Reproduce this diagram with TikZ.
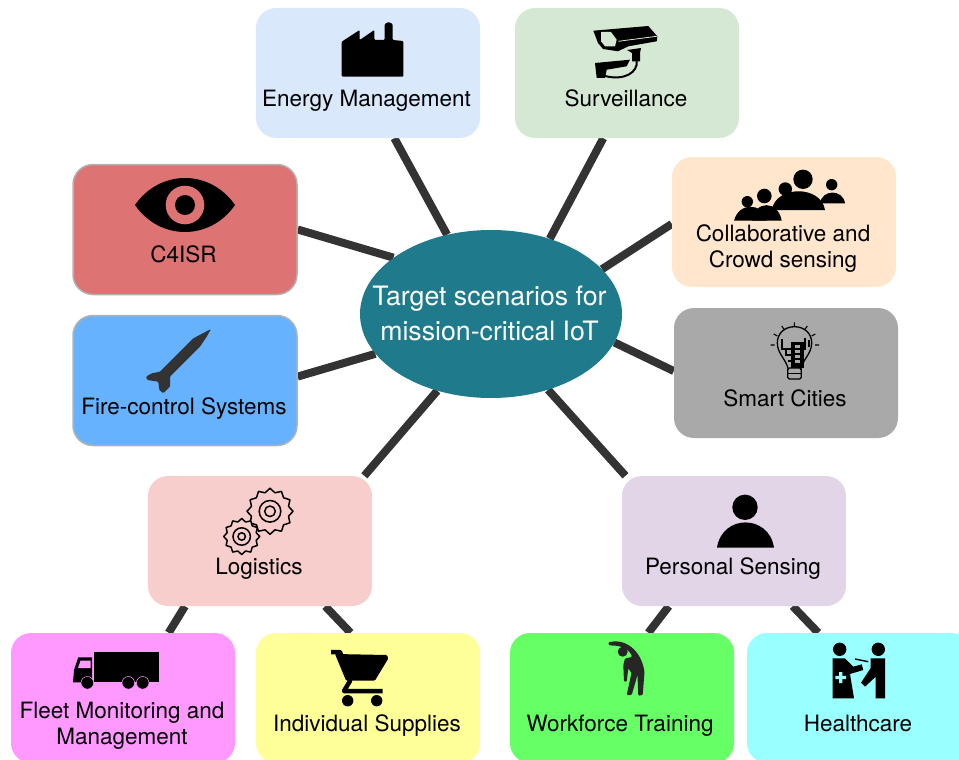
\documentclass[tikz,border=0pt]{standalone}
\usepackage{fontspec}
\setmainfont{TeX Gyre Heros}
\usetikzlibrary{shapes.geometric,backgrounds}
\definecolor{hubcol}{HTML}{1F7A8C}
\definecolor{energycol}{HTML}{DAE8FC}
\definecolor{survcol}{HTML}{D5E8D4}
\definecolor{crowdcol}{HTML}{FFE6CC}
\definecolor{citycol}{HTML}{A9A9A9}
\definecolor{eyecol}{HTML}{DD7372}
\definecolor{firecol}{HTML}{66B2FF}
\definecolor{logicol}{HTML}{F8CECC}
\definecolor{perscol}{HTML}{E1D5E7}
\definecolor{fleetcol}{HTML}{FF99FF}
\definecolor{supplycol}{HTML}{FFFF99}
\definecolor{workcol}{HTML}{66FF66}
\definecolor{healthcol}{HTML}{99FFFF}
\tikzset{
	boxnode/.style={rectangle,rounded corners=20pt,minimum width=224pt,minimum height=130pt,inner sep=0pt},
	tagnode/.style={font=\fontsize{22.5}{26.5}\selectfont,anchor=base,align=center,inner sep=0pt},
	link/.style={line width=8pt,draw=black!80},
	gearnode/.style={star,star point ratio=1.2,draw,line width=1.5pt,line join=round,inner sep=0pt}
}
\begin{document}
\begin{tikzpicture}[x=1pt,y=-1pt]
	\clip (0,0) rectangle (959,760);
	\node[ellipse,fill=hubcol,minimum width=262pt,minimum height=168pt,inner sep=0pt] (hub) at (491,314) {};
	\node[boxnode,fill=energycol] (energy) at (368,73) {};
	\node[boxnode,fill=survcol] (surv) at (627,73) {};
	\node[boxnode,fill=crowdcol] (crowd) at (784,222) {};
	\node[boxnode,fill=citycol] (city) at (786,373) {};
	\node[boxnode,fill=eyecol,draw=black!30,line width=1.5pt] (c4isr) at (185,229.5) {};
	\node[boxnode,fill=firecol,draw=black!30,line width=1.5pt] (fire) at (185,380.5) {};
	\node[boxnode,fill=logicol] (logi) at (260,541) {};
	\node[boxnode,fill=perscol] (pers) at (734,541) {};
	\node[boxnode,fill=fleetcol] (fleet) at (123,698) {};
	\node[boxnode,fill=supplycol] (supply) at (368,698) {};
	\node[boxnode,fill=workcol] (work) at (622,698) {};
	\node[boxnode,fill=healthcol] (health) at (859,698) {};
	\begin{pgfonlayer}{background}
		\draw[link] (hub.119) -- (energy.-68.5);
		\draw[link] (hub.52.9) -- (surv.-110);
		\draw[link] (hub.22.5) -- (crowd.181.5);
		\draw[link] (hub.-13.4) -- (city.179);
		\draw[link] (hub.-53) -- (pers.149.4);
		\draw[link] (hub.-125) -- (logi.32.5);
		\draw[link] (hub.150.7) -- (c4isr.0.8);
		\draw[link] (hub.-161) -- (fire.2.3);
		\draw[link] (logi.-139.1) -- (fleet.55.9);
		\draw[link] (logi.-45) -- (supply.105.5);
		\draw[link] (pers.-135.4) -- (work.68.2);
		\draw[link] (pers.-48.3) -- (health.122.9);
	\end{pgfonlayer}
	\node[font=\fontsize{26.7}{35}\selectfont,text=white,align=center,inner sep=0pt] (hubtag) at (489.5,313) {Target scenarios for\\mission-critical IoT};
	\node[tagnode] (energytag) at (366.5,106.5) {Energy Management};
	\node[tagnode] (survtag) at (626,106.5) {Surveillance};
	\node[tagnode] (crowdtag) at (783,267.5) {Collaborative and\\Crowd sensing};
	\node[tagnode] (citytag) at (785,406.5) {Smart Cities};
	\node[tagnode] (c4isrtag) at (183.5,262) {C4ISR};
	\node[tagnode] (firetag) at (184,414) {Fire-control Systems};
	\node[tagnode] (logitag) at (259,574) {Logistics};
	\node[tagnode] (perstag) at (733,574) {Personal Sensing};
	\node[tagnode] (fleettag) at (122,744.5) {Fleet Monitoring and\\Management};
	\node[tagnode] (supplytag) at (367,731) {Individual Supplies};
	\node[tagnode] (worktag) at (620,731) {Workforce Training};
	\node[tagnode] (healthtag) at (858,731) {Healthcare};
	\fill[rounded corners=1pt] (341.7,41.7) -- (359.7,30) -- (359.7,40) -- (374.3,30) -- (374.3,40) -- (384.7,40) -- (384.7,24) -- (388.7,22) -- (392.7,24) -- (392.7,40) -- (403.3,41) -- (403.3,76.7) -- (341.7,76.7) -- cycle;
	\fill (593.3,30.7) -- (648.3,26) -- (657.3,36.3) -- (656.7,41.3) -- (628.3,46.3) -- (618,51.3) -- (603,49) -- (598,43) -- cycle;
	\fill[survcol] (601,32) -- (611,32) -- (616.7,39.7) -- (615,46.3) -- (605,46.3) -- (601,41.3) -- cycle;
	\draw[survcol,line width=.8pt] (618.3,41.3) -- (656.7,36.3);
	\fill (627,50) -- (641,48) -- (640,53) -- (640,61.5) -- (632,61.5) -- (632,53) -- cycle;
	\fill (595,63) -- (630,59.7) -- (626.7,66.3) -- (606.7,69.7) -- (605,78) -- (596.7,78) -- cycle;
	\draw[line width=2pt] (636.7,61) .. controls (638,72) and (625,81) .. (605,76);
	\fill (747.3,201.7) circle (5.7pt);
	\fill (764.3,196) circle (7.3pt);
	\fill (785.3,189) circle (6.7pt);
	\fill (803,179.3) circle (9.7pt);
	\fill (831.7,184.7) circle (5.7pt);
	\fill (820,203.3) .. controls (822,189) and (843,189) .. (845,203.3) -- cycle;
	\fill (771.7,210) .. controls (776,185) and (821,185) .. (825,210) -- cycle;
	\fill (734,220.7) .. controls (739,202) and (762,202) .. (766.7,220.7) -- cycle;
	\fill (751.7,220.7) .. controls (755,200) and (778,200) .. (781.7,220.7) -- cycle;
	\draw[line width=1.1pt] (770.7,345) -- (774.7,345) (773.7,334) -- (777.3,336) (781.7,326) -- (784,329.3) (794.3,322.3) -- (794.3,326) (805,329.3) -- (807.3,326) (811.7,336) -- (815.3,334) (815,345) -- (819,345);
	\draw[line width=1.3pt] (788.3,370) .. controls (787,360) and (777.3,354) .. (777.3,343) .. controls (777.3,333) and (785,326.7) .. (794.5,326.7) .. controls (804,326.7) and (811.7,333) .. (811.7,343) .. controls (811.7,354) and (802,360) .. (800.7,370);
	\draw[line width=1.3pt,rounded corners=1.5pt] (787.7,368) rectangle (801.3,379);
	\draw[line width=1pt] (787.7,373.5) -- (801.3,373.5);
	\draw[line width=1.1pt] (782,339) -- (782,349) -- (786,349) -- (786,355) -- (791,355) (786,349) -- (791,349) (788,361) -- (791,361);
	\draw[line width=1.1pt] (805,338) -- (805,350) (809,340) -- (809,347);
	\fill (791,342.3) rectangle (804,368.3);
	\foreach \winy in {345,350,355,360}
		\fill[citycol] (795,\winy) rectangle (800,\winy+3.3);
	\fill (135,205) .. controls (160,169) and (210,169) .. (235,205) .. controls (210,241) and (160,241) .. (135,205) -- cycle;
	\fill[eyecol] (185,205) circle (19.3pt);
	\fill (185,205) circle (10pt);
	\fill[black!80,rounded corners=1pt] (211,329) -- (206.7,336.7) -- (200,346.7) -- (170,376.7) -- (170,386.7) -- (163.3,393.3) -- (159.3,390) -- (158.3,381.7) -- (147.3,380) -- (146,376.7) -- (151.7,373.3) -- (160,371.7) -- (193.3,338.3) -- cycle;
	\node[gearnode,star points=12,minimum size=46pt,fill=logicol] (biggear) at (270,511.3) {};
	\node[gearnode,star points=12,minimum size=36pt,fill=logicol] (smallgear) at (241.7,536.5) {};
	\draw[line width=1.5pt] (270,511.3) circle (10.8pt) (270,511.3) circle (5.3pt);
	\draw[line width=1.5pt] (241.7,536.5) circle (8.7pt) (241.7,536.5) circle (3.7pt);
	\fill (94,651.7) rectangle (158.7,682.3);
	\fill (73,682.3) -- (74,670) -- (78.3,657.3) -- (92,657.3) -- (92,682.3) -- cycle;
	\fill[fleetcol] (80.5,660.5) -- (90.5,660.5) -- (90.5,668) -- (78,668) -- cycle;
	\filldraw[draw=fleetcol,line width=.5pt] (87.3,682.8) circle (6.3pt);
	\filldraw[draw=fleetcol,line width=.5pt] (128.3,682.8) circle (6.3pt);
	\filldraw[draw=fleetcol,line width=.5pt] (142.7,682.8) circle (6.3pt);
	\fill[rounded corners=1pt] (335,654) -- (387,655) -- (388.3,658.5) -- (375,680.5) -- (346,680.5) -- cycle;
	\draw[line width=4.5pt,line join=round] (331,652) -- (340,652) -- (350,681) -- (344,691) -- (382.5,691);
	\fill (347.7,700.7) circle (5.7pt);
	\fill (376.7,700.7) circle (5.7pt);
	\fill (745,507.3) circle (12.7pt);
	\fill (717,547.7) .. controls (722,514) and (769,514) .. (774,547.7) -- cycle;
	\fill[black!85] (622.7,651.7) circle (5pt);
	\fill[black!85,rounded corners=1pt] (608.3,642.5) .. controls (625,638) and (641,650) .. (644.5,672) -- (642.7,695) -- (638.3,695.7) -- (637.5,675) -- (631.7,695) -- (626.7,695) -- (631.5,673) -- (628.3,668.3) -- (626.7,681.7) -- (624,681.7) -- (623.3,665) -- (625,658.5) -- (632,657) .. controls (630,650) and (622,645) .. (609,645.5) -- cycle;
	\fill (839.7,649.3) circle (6.7pt);
	\fill (878.3,649.3) circle (6.7pt);
	\fill (832.7,658.3) -- (845,658.3) -- (853.3,666.7) -- (861.7,664.3) -- (863.3,670) -- (850,674) -- (854,698.3) -- (832.7,698.3) -- cycle;
	\fill[healthcol] (839,672) rectangle (842.4,683) (835.4,675.8) rectangle (846,679.2);
	\fill (870.7,658.3) -- (885,658.3) -- (885,698.3) -- (875.7,698.3) -- (875.7,676.7) -- (865,686.7) -- (861,682.7) -- (870.7,668) -- cycle;
	\draw[line width=1.4pt] (855,659) -- (868.3,661.7);
\end{tikzpicture}
\end{document}
